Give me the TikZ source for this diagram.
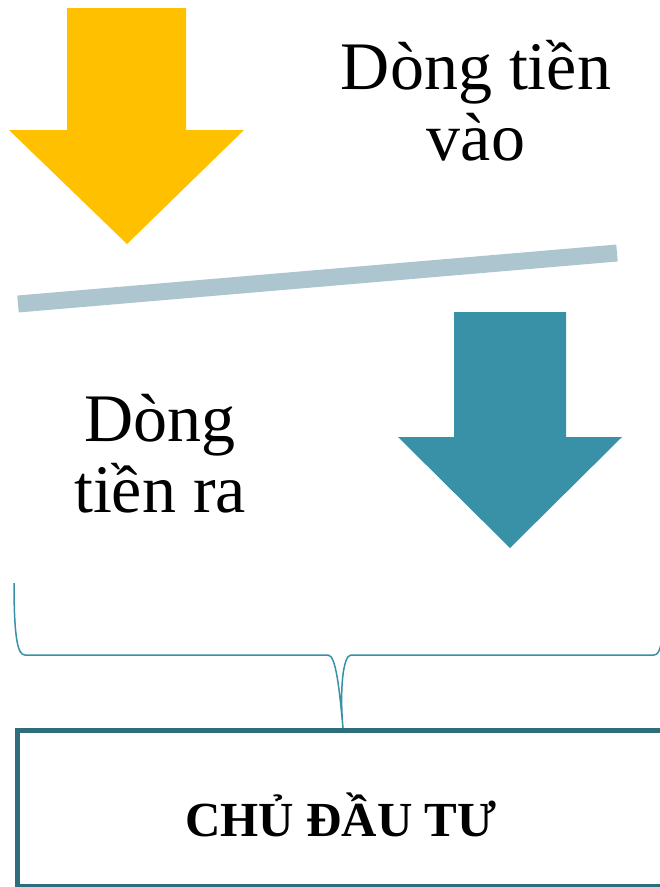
\documentclass[tikz,border=0pt]{standalone}
\usepackage{fontspec}
\setmainfont{Liberation Serif}
\definecolor{gold}{HTML}{FFC000}
\definecolor{tealarrow}{HTML}{3891A7}
\definecolor{divider}{HTML}{ADC5CE}
\definecolor{frame}{HTML}{2E6D7C}
\tikzset{
  bigtext/.style={font=\fontsize{68}{71}\selectfont, align=center, inner sep=0pt},
  brace/.style={draw=tealarrow, line width=1.5pt},
}
\begin{document}
\begin{tikzpicture}[x=1pt,y=-1pt]
\useasboundingbox (0,0) rectangle (660,887);
\clip (0,0) rectangle (660,887);
% incoming cash flow arrow
\fill[gold] (67,8) -- (186,8) -- (186,130) -- (244,130) -- (127,244)
  -- (9,130) -- (67,130) -- cycle;
% outgoing cash flow arrow
\fill[tealarrow] (454,312) -- (566,312) -- (566,437) -- (622,437) -- (510,548)
  -- (398,437) -- (454,437) -- cycle;
% divider
\draw[divider, line width=17pt] (18,304) -- (617,253);
% labels (anchored at the baseline of the last line)
\node[bigtext, anchor=base] (inflow) at (476,160) {Dòng tiền\\vào};
\node[bigtext, anchor=base] (outflow) at (160,512) {Dòng\\tiền ra};
% investor box
\node[draw=frame, line width=5pt, minimum width=651pt, minimum height=156pt,
  anchor=north west, inner sep=0pt] (owner) at (15,728) {};
\node[font=\fontsize{49}{52}\bfseries\selectfont, anchor=base] (ownerlabel)
  at (341,836) {CHỦ ĐẦU TƯ};
% brace joining both flows to the box
\coordinate (bl) at (14,583);
\coordinate (br) at (664,583);
\draw[brace] (bl) .. controls (14,640) and (18,655) .. (25,655)
  -- (328,655) .. controls (336,655) and (339.5,690) .. (owner.north)
  (owner.north) .. controls (339.5,690) and (343,655) .. (351,655)
  -- (654,655) .. controls (661,655) and (664,640) .. (br);
\end{tikzpicture}
\end{document}
